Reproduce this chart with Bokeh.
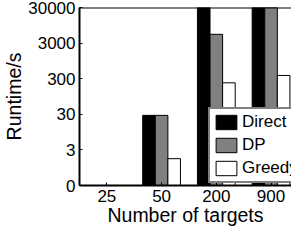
import numpy as np
from bokeh.plotting import figure
from bokeh.models import Range1d, FixedTicker, Legend, LegendItem, Span, ColumnDataSource
from bokeh.embed import file_html
from bokeh.resources import INLINE

categories = ["25", "50", "200", "900"]
direct = [0.1, 28, 100000, 100000]
dp = [0.1, 28, 5300, 100000]
greedy = [0.1, 1.7, 230, 370]
y_tick_values = [0.3, 3, 30, 300, 3000, 30000]
y_tick_labels = ["0", "3", "30", "300", "3000", "30000"]

FONT = "Liberation Sans"
xs = np.arange(1, len(categories) + 1)
bw = 0.23
y0 = y_tick_values[0]

p = figure(width=291, height=228, output_backend="svg", toolbar_location=None,
           y_axis_type="log",
           x_range=Range1d(0.5, 0.5 + 215 / 55.5),
           y_range=Range1d(y_tick_values[0], y_tick_values[-1]),
           min_border_left=75, min_border_right=0, min_border_top=7, min_border_bottom=0)
p.outline_line_color = None
p.xgrid.visible = False
p.ygrid.visible = False

series = [("Direct", direct, "black", -bw), ("DP", dp, "#808080", 0.0), ("Greedy", greedy, "white", bw)]
items = []
for name, vals, col, off in series:
    src = ColumnDataSource(dict(x=xs + off, top=vals, bottom=[y0] * len(vals)))
    r = p.vbar(x="x", top="top", bottom="bottom", width=bw, source=src,
               fill_color=col, line_color="black", line_width=1)
    items.append(LegendItem(label=name, renderers=[r]))

p.add_layout(Span(location=y_tick_values[-1], dimension="width", line_color="black", line_width=2))

for ax in (p.xaxis[0], p.yaxis[0]):
    ax.axis_line_width = 2
    ax.axis_line_color = "black"
    ax.major_tick_in = 3
    ax.major_tick_out = 0
    ax.minor_tick_line_color = None
    ax.major_label_text_font = FONT
    ax.major_label_text_font_size = "17px"
    ax.major_label_text_color = "black"
    ax.axis_label_text_font = FONT
    ax.axis_label_text_font_size = "19.5px"
    ax.axis_label_text_font_style = "normal"
    ax.axis_label_text_color = "black"

p.xaxis.ticker = FixedTicker(ticks=list(xs))
p.xaxis.major_label_overrides = {int(i): c for i, c in zip(xs, categories)}
p.xaxis.axis_label = "Number of targets"
p.xaxis.major_label_standoff = 4
p.xaxis.axis_label_standoff = -1

p.yaxis.ticker = FixedTicker(ticks=y_tick_values)
p.yaxis.major_label_overrides = {v: l for v, l in zip(y_tick_values, y_tick_labels)}
p.yaxis.axis_label = "Runtime/s"
p.yaxis.major_label_standoff = 4
p.yaxis.axis_label_standoff = 0

legend = Legend(items=items, location=(129, 2), border_line_color="black", border_line_width=2,
                background_fill_color="white", background_fill_alpha=1.0,
                padding=3, spacing=3, margin=0, glyph_width=26, glyph_height=18,
                label_height=18, label_standoff=3, label_text_font=FONT,
                label_text_font_size="17px", label_text_color="black")
p.add_layout(legend, "center")

open("out.html", "w").write(file_html(p, INLINE))
